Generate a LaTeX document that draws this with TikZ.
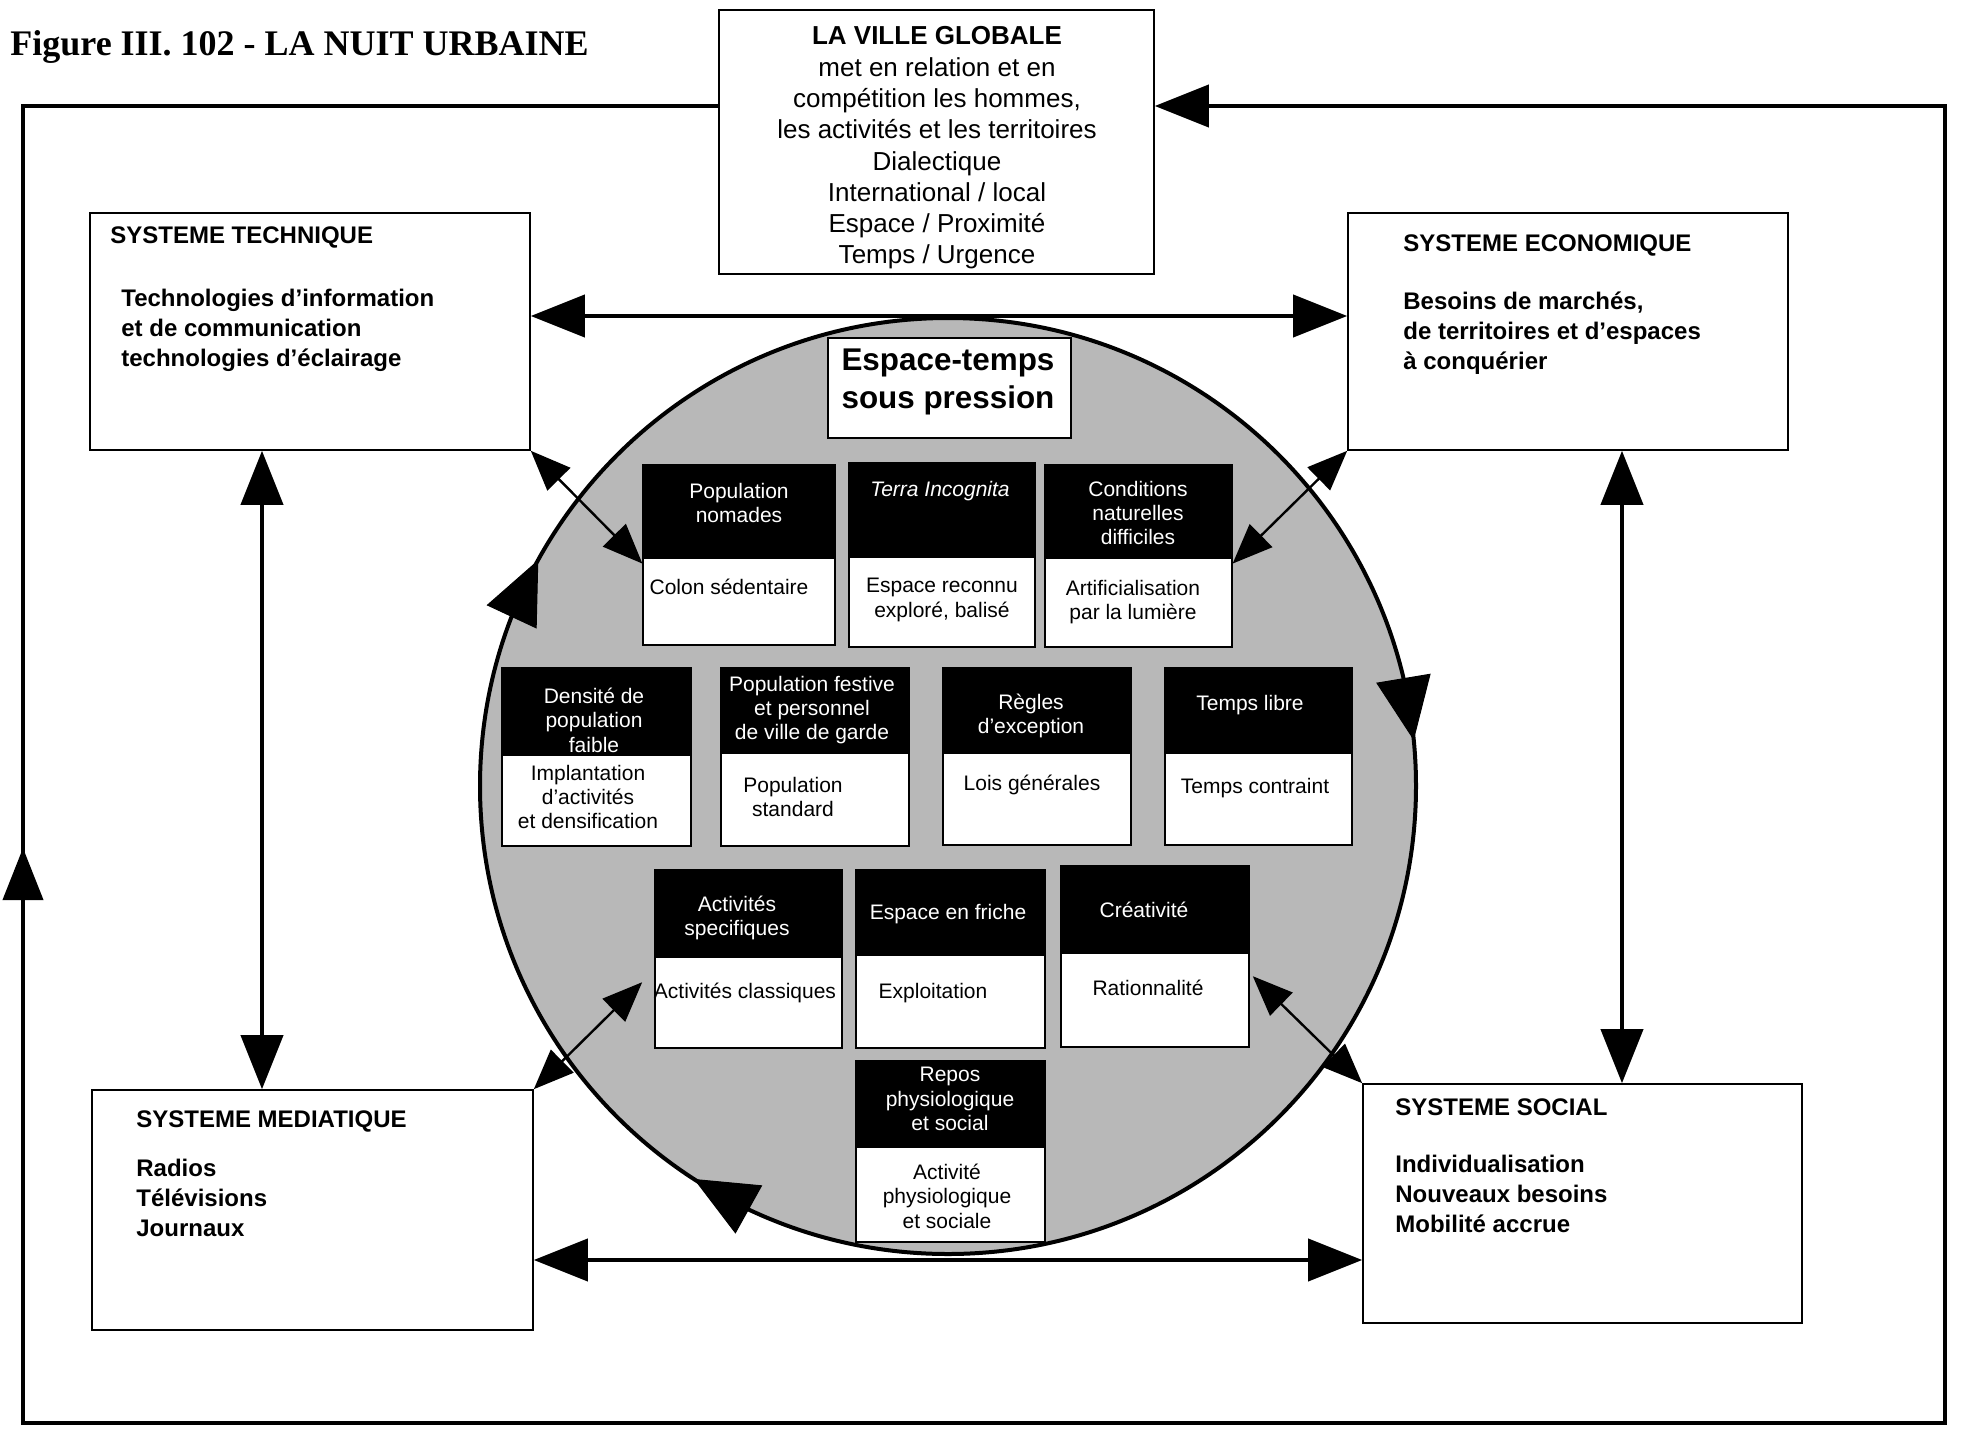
\documentclass[tikz,border=0pt]{standalone}
\usepackage{fontspec}
\setmainfont{Liberation Sans}
\newfontfamily\serifttl{Liberation Serif}
\usetikzlibrary{arrows.meta,fit,calc}
\begin{document}
\begin{tikzpicture}[x=0.5pt,y=-0.5pt,
  bigbox/.style={draw, line width=0.8pt, fill=white, inner sep=0pt},
  bigtitle/.style={anchor=west, inner sep=0pt, font=\bfseries\fontsize{12}{15}\selectfont},
  bigbody/.style={anchor=west, inner sep=0pt, align=left, font=\bfseries\fontsize{12}{15}\selectfont},
  hdbox/.style={draw=black, fill=black, line width=0.6pt, inner sep=0pt},
  bdbox/.style={draw=black, fill=white, line width=0.8pt, inner sep=0pt},
  hdtext/.style={text=white, inner sep=0pt, align=center, font=\fontsize{10.5}{12.2}\selectfont},
  bdtext/.style={text=black, inner sep=0pt, align=center, font=\fontsize{10.5}{12.2}\selectfont},
  mainarrow/.style={line width=2pt, {Triangle[length=27pt,width=21pt]}-{Triangle[length=27pt,width=21pt]}},
  diagarrow/.style={line width=1.2pt, {Triangle[length=20pt,width=16pt]}-{Triangle[length=20pt,width=16pt]}},
  loopline/.style={line width=2pt},
  circtip/.style={line width=0.5pt, -{Triangle[length=31.5pt,width=27.5pt]}},
]
\useasboundingbox (0,0) rectangle (1961,1430);

% title
\node[anchor=west, inner sep=0pt, font=\serifttl\bfseries\fontsize{18}{20}\selectfont] (title) at (10,47) {Figure III. 102 - LA NUIT URBAINE};

% central globe
\node[circle, draw, line width=2pt, fill=black!28, minimum size=468pt, inner sep=0pt] (globe) at (948,786) {};
\foreach \a in {208.9,354.4,122.9} {
  \draw[circtip] ($(globe.center)+({\a-7.7}:468)$) -- ($(globe.center)+(\a:468)$);
}

% Espace-temps box
\node[bdbox, fit={(828,338)(1071,438)}] (etbox) {};
\node[inner sep=0pt, align=center, font=\bfseries\fontsize{15.7}{18.8}\selectfont] (ettext) at (948,382) {Espace-temps\\sous pression};

% inner boxes
\node[hdbox, fit={(643,465)(835,558)}] (Ah) {};
\node[bdbox, fit={(643,558)(835,645)}] (Ab) {};
\node[hdtext] (Aht) at (739,503) {Population\\nomades};
\node[bdtext] (Abt) at (729,587) {Colon sédentaire};

\node[hdbox, fit={(849,463)(1035,557)}] (Bh) {};
\node[bdbox, fit={(849,557)(1035,647)}] (Bb) {};
\node[hdtext] (Bht) at (940,491) {\itshape Terra Incognita};
\node[bdtext] (Bbt) at (942,600) {Espace reconnu\\exploré, balisé};

\node[hdbox, fit={(1045,465)(1232,558)}] (Ch) {};
\node[bdbox, fit={(1045,558)(1232,647)}] (Cb) {};
\node[hdtext] (Cht) at (1138,513) {Conditions\\naturelles\\difficiles};
\node[bdtext] (Cbt) at (1133,602) {Artificialisation\\par la lumière};

\node[hdbox, fit={(502,668)(691,755)}] (Dh) {};
\node[bdbox, fit={(502,755)(691,846)}] (Db) {};
\node[hdtext] (Dht) at (594,720) {Densité de\\population\\faible};
\node[bdtext] (Dbt) at (588,797) {Implantation\\d'activités\\et densification};

\node[hdbox, fit={(721,668)(909,753)}] (Eh) {};
\node[bdbox, fit={(721,753)(909,846)}] (Eb) {};
\node[hdtext] (Eht) at (812,710) {Population festive\\et personnel\\de ville de garde};
\node[bdtext] (Ebt) at (793,797) {Population\\standard};

\node[hdbox, fit={(943,668)(1131,753)}] (Fh) {};
\node[bdbox, fit={(943,753)(1131,845)}] (Fb) {};
\node[hdtext] (Fht) at (1031,716) {Règles\\d'exception};
\node[bdtext] (Fbt) at (1032,785) {Lois générales};

\node[hdbox, fit={(1165,668)(1352,753)}] (Gh) {};
\node[bdbox, fit={(1165,753)(1352,845)}] (Gb) {};
\node[hdtext] (Ght) at (1250,705) {Temps libre};
\node[bdtext] (Gbt) at (1255,788) {Temps contraint};

\node[hdbox, fit={(655,870)(842,957)}] (Hh) {};
\node[bdbox, fit={(655,957)(842,1048)}] (Hb) {};
\node[hdtext] (Hht) at (737,918) {Activités\\specifiques};
\node[bdtext] (Hbt) at (745,993) {Activités classiques};

\node[hdbox, fit={(856,870)(1045,955)}] (Ih) {};
\node[bdbox, fit={(856,955)(1045,1048)}] (Ib) {};
\node[hdtext] (Iht) at (948,914) {Espace en friche};
\node[bdtext] (Ibt) at (933,993) {Exploitation};

\node[hdbox, fit={(1061,866)(1249,953)}] (Jh) {};
\node[bdbox, fit={(1061,953)(1249,1047)}] (Jb) {};
\node[hdtext] (Jht) at (1144,910) {Créativité};
\node[bdtext] (Jbt) at (1148,988) {Rationnalité};

\node[hdbox, fit={(856,1061)(1045,1147)}] (Kh) {};
\node[bdbox, fit={(856,1147)(1045,1242)}] (Kb) {};
\node[hdtext] (Kht) at (950,1099) {Repos\\physiologique\\et social};
\node[bdtext] (Kbt) at (947,1196) {Activité\\physiologique\\et sociale};

% big boxes
\node[bigbox, fit={(719,10)(1154,274)}] (ville) {};
\node[inner sep=0pt, align=center, font=\fontsize{13}{15.65}\selectfont] (villetext) at (937,148) {\textbf{LA VILLE GLOBALE}\\met en relation et en\\compétition les hommes,\\les activités et les territoires\\Dialectique\\International / local\\Espace / Proximité\\Temps / Urgence};

\node[bigbox, fit={(90,213)(530,450)}] (tech) {};
\node[bigtitle] (techt) at (110,237) {SYSTEME TECHNIQUE};
\node[bigbody] (techb) at (121,330) {Technologies d'information\\et de communication\\technologies d'éclairage};

\node[bigbox, fit={(1348,213)(1788,450)}] (eco) {};
\node[bigtitle] (ecot) at (1403,245) {SYSTEME ECONOMIQUE};
\node[bigbody] (ecob) at (1403,333) {Besoins de marchés,\\de territoires et d'espaces\\à conquérier};

\node[bigbox, fit={(92,1090)(533,1330)}] (media) {};
\node[bigtitle] (mediat) at (136,1121) {SYSTEME MEDIATIQUE};
\node[bigbody] (mediab) at (136,1198) {Radios\\Télévisions\\Journaux};

\node[bigbox, fit={(1363,1084)(1802,1323)}] (social) {};
\node[bigtitle] (socialt) at (1395,1107) {SYSTEME SOCIAL};
\node[bigbody] (socialb) at (1395,1194) {Individualisation\\Nouveaux besoins\\Mobilité accrue};

% main arrows
\coordinate (yt) at (0,316);
\coordinate (yb) at (0,1260);
\coordinate (xl) at (262,0);
\coordinate (xr) at (1622,0);
\draw[mainarrow] (tech.east |- yt) -- (eco.west |- yt);
\draw[mainarrow] (media.east |- yb) -- (social.west |- yb);
\draw[mainarrow] (tech.south -| xl) -- (media.north -| xl);
\draw[mainarrow] (eco.south -| xr) -- (social.north -| xr);

% diagonal arrows
\draw[diagarrow] (tech.south east) -- ($(Ah.south west)+(0,5)$);
\draw[diagarrow] (eco.south west) -- ($(Ch.south east)+(0,5)$);
\draw[diagarrow] (media.north east) -- ($(Hb.north west)+(-12,26)$);
\draw[diagarrow] (social.north west) -- ($(Jb.north east)+(3,24)$);

% outer loop
\coordinate (ly) at (0,106);
\coordinate (c1) at (23,106);
\coordinate (c2) at (23,1423);
\coordinate (c3) at (1945,1423);
\coordinate (c4) at (1945,106);
\draw[loopline, -{Triangle[length=27pt,width=21pt]}] (ville.west |- ly) -- (c1) -- (c2) -- (c3) -- (c4) -- (ville.east |- ly);
\coordinate (la0) at (23,902);
\coordinate (la1) at (23,848);
\draw[loopline, -{Triangle[length=26pt,width=20pt]}] (la0) -- (la1);
\end{tikzpicture}
\end{document}
